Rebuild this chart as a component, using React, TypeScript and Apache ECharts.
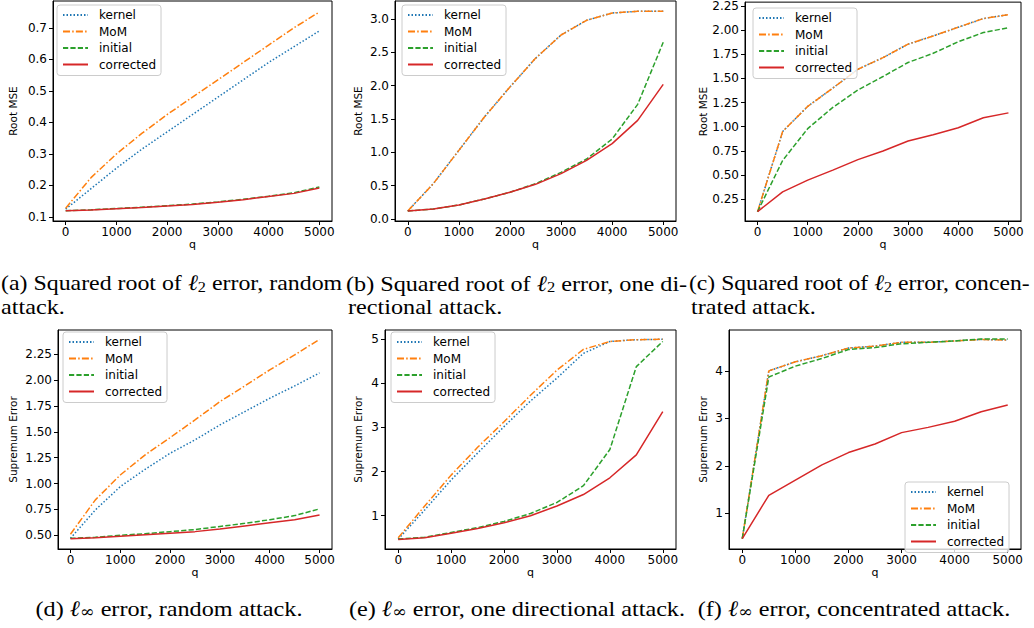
import React, { useEffect, useRef } from "react";
import * as echarts from "echarts";

const XS = [0, 500, 1000, 1500, 2000, 2500, 3000, 3500, 4000, 4500, 5000];
const XTICKS = [0, 1000, 2000, 3000, 4000, 5000];
const SERIES_NAMES = ["kernel", "MoM", "initial", "corrected"];

// (a) Root MSE, random attack
const kernelA = [0.125, 0.19, 0.255, 0.315, 0.37, 0.425, 0.48, 0.535, 0.59, 0.64, 0.69];
const momA = [0.128, 0.225, 0.3, 0.365, 0.425, 0.48, 0.535, 0.59, 0.645, 0.7, 0.75];
const initialA = [0.12, 0.123, 0.127, 0.131, 0.136, 0.141, 0.148, 0.156, 0.166, 0.177, 0.195];
const correctedA = [0.12, 0.122, 0.126, 0.13, 0.135, 0.14, 0.147, 0.155, 0.165, 0.175, 0.192];

// (b) Root MSE, one directional attack
const kernelB = [0.12, 0.53, 1.03, 1.53, 1.98, 2.41, 2.76, 2.98, 3.09, 3.115, 3.115];
const momB = [0.12, 0.53, 1.03, 1.53, 1.98, 2.41, 2.76, 2.98, 3.09, 3.115, 3.115];
const initialB = [0.12, 0.15, 0.21, 0.3, 0.4, 0.53, 0.7, 0.9, 1.2, 1.72, 2.65];
const correctedB = [0.12, 0.15, 0.21, 0.3, 0.4, 0.52, 0.68, 0.88, 1.13, 1.48, 2.02];

// (c) Root MSE, concentrated attack
const kernelC = [0.12, 0.95, 1.21, 1.4, 1.595, 1.715, 1.855, 1.94, 2.03, 2.12, 2.16];
const momC = [0.12, 0.95, 1.21, 1.4, 1.595, 1.715, 1.855, 1.94, 2.03, 2.12, 2.16];
const initialC = [0.12, 0.65, 0.98, 1.2, 1.38, 1.52, 1.665, 1.76, 1.88, 1.975, 2.025];
const correctedC = [0.12, 0.325, 0.446, 0.55, 0.659, 0.748, 0.851, 0.917, 0.989, 1.092, 1.143];

// (d) Supremum error, random attack
const kernelD = [0.47, 0.745, 0.97, 1.138, 1.293, 1.422, 1.567, 1.696, 1.825, 1.944, 2.07];
const momD = [0.51, 0.842, 1.083, 1.277, 1.444, 1.615, 1.792, 1.944, 2.099, 2.244, 2.395];
const initialD = [0.47, 0.48, 0.5, 0.515, 0.535, 0.555, 0.585, 0.615, 0.65, 0.69, 0.755];
const correctedD = [0.465, 0.475, 0.49, 0.505, 0.52, 0.535, 0.56, 0.59, 0.62, 0.65, 0.695];

// (e) Supremum error, one directional attack
const kernelE = [0.47, 1.13, 1.81, 2.42, 3.02, 3.6, 4.12, 4.68, 4.95, 4.99, 5.0];
const momE = [0.5, 1.22, 1.92, 2.55, 3.13, 3.73, 4.3, 4.77, 4.95, 4.99, 5.0];
const initialE = [0.47, 0.51, 0.62, 0.73, 0.87, 1.05, 1.3, 1.68, 2.5, 4.38, 4.95];
const correctedE = [0.46, 0.5, 0.6, 0.71, 0.84, 1.0, 1.22, 1.48, 1.86, 2.38, 3.36];

// (f) Supremum error, concentrated attack
const kernelF = [0.47, 4.0, 4.19, 4.32, 4.48, 4.52, 4.6, 4.6, 4.63, 4.66, 4.65];
const momF = [0.47, 4.0, 4.19, 4.32, 4.48, 4.52, 4.6, 4.6, 4.63, 4.66, 4.65];
const initialF = [0.47, 3.87, 4.1, 4.26, 4.45, 4.49, 4.57, 4.6, 4.63, 4.67, 4.67];
const correctedF = [0.47, 1.38, 1.7, 2.02, 2.28, 2.46, 2.7, 2.81, 2.94, 3.14, 3.28];

const yTicksA = [0.1, 0.2, 0.3, 0.4, 0.5, 0.6, 0.7];
const yTicksB = [0.0, 0.5, 1.0, 1.5, 2.0, 2.5, 3.0];
const yTicksC = [0.25, 0.5, 0.75, 1.0, 1.25, 1.5, 1.75, 2.0, 2.25];
const yTicksD = [0.5, 0.75, 1.0, 1.25, 1.5, 1.75, 2.0, 2.25];
const yTicksE = [1, 2, 3, 4, 5];
const yTicksF = [1, 2, 3, 4];

const COLORS = ["#1f77b4", "#ff7f0e", "#2ca02c", "#d62728"];
const DASHES: any[] = [[1.5, 2], [7, 2.2, 1.5, 2.2], [5.2, 2.2], "solid"];

const SANS = "DejaVu Sans";
const SERIF = "Liberation Serif";

type Panel = {
  grid: { left: number; top: number; width: number; height: number };
  yMin: number;
  yMax: number;
  yTicks: number[];
  decimals: number;
  yName: string;
  yNameGap: number;
  legend: { left: number; top: number };
  data: number[][];
};

const panels: Panel[] = [
  { grid: { left: 53, top: 1, width: 279, height: 220 }, yMin: 0.0874, yMax: 0.785, yTicks: yTicksA, decimals: 1, yName: "Root MSE", yNameGap: 35, legend: { left: 57, top: 5 }, data: [kernelA, momA, initialA, correctedA] },
  { grid: { left: 395, top: 1, width: 281, height: 220 }, yMin: -0.03, yMax: 3.27, yTicks: yTicksB, decimals: 1, yName: "Root MSE", yNameGap: 32, legend: { left: 402, top: 5 }, data: [kernelB, momB, initialB, correctedB] },
  { grid: { left: 745, top: 1, width: 276, height: 220 }, yMin: 0.023, yMax: 2.29, yTicks: yTicksC, decimals: 2, yName: "Root MSE", yNameGap: 37, legend: { left: 753, top: 8 }, data: [kernelC, momC, initialC, correctedC] },
  { grid: { left: 58, top: 330, width: 274, height: 219 }, yMin: 0.367, yMax: 2.485, yTicks: yTicksD, decimals: 2, yName: "Supremum Error", yNameGap: 40, legend: { left: 63, top: 332 }, data: [kernelD, momD, initialD, correctedD] },
  { grid: { left: 385, top: 330, width: 291, height: 219 }, yMin: 0.245, yMax: 5.21, yTicks: yTicksE, decimals: 0, yName: "Supremum Error", yNameGap: 22, legend: { left: 391, top: 332 }, data: [kernelE, momE, initialE, correctedE] },
  { grid: { left: 729, top: 330, width: 292, height: 219 }, yMin: 0.25, yMax: 4.86, yTicks: yTicksF, decimals: 0, yName: "Supremum Error", yNameGap: 21, legend: { left: 905, top: 482 }, data: [kernelF, momF, initialF, correctedF] },
];

const CAP_SIZE = 22;
const capRich = {
  l: { fontSize: CAP_SIZE, fontFamily: SERIF, fill: "#000", lineHeight: 23, fontStyle: "italic" },
  s: { fontSize: 15, fontFamily: SERIF, fill: "#000", lineHeight: 13, verticalAlign: "bottom" },
  i: { fontSize: 16, fontFamily: "DejaVu Serif", fill: "#000", lineHeight: 12, verticalAlign: "bottom" },
};

function capText(x: number, y: number, text: string, align: string, scaleX: number) {
  return {
    type: "text",
    x,
    y,
    scaleX,
    scaleY: 1,
    originX: 0,
    originY: 0,
    silent: true,
    style: {
      text,
      fill: "#000",
      fontSize: CAP_SIZE,
      fontFamily: SERIF,
      lineHeight: 23,
      textAlign: align,
      textVerticalAlign: "middle",
      rich: capRich,
    },
  };
}

export default function App() {
  const ref = useRef<HTMLDivElement>(null);
  useEffect(() => {
    if (!ref.current) return;
    const chart = echarts.init(ref.current, null, { renderer: "svg" });
    const grids: any[] = [];
    const xAxes: any[] = [];
    const yAxes: any[] = [];
    const series: any[] = [];
    const legends: any[] = [];
    panels.forEach((p, i) => {
      grids.push({ ...p.grid, show: true, borderColor: "#000", borderWidth: 1, containLabel: false });
      xAxes.push({
        type: "value",
        gridIndex: i,
        min: -250,
        max: 5250,
        axisLine: { show: true, onZero: false, lineStyle: { color: "#000", width: 1 } },
        axisTick: { show: true, customValues: XTICKS, length: 4, lineStyle: { color: "#000" } },
        axisLabel: {
          customValues: XTICKS,
          color: "#000",
          fontSize: 12,
          fontFamily: SANS,
          margin: 5,
          formatter: (v: number) => String(v),
        },
        splitLine: { show: false },
        name: "q",
        nameLocation: "middle",
        nameGap: 14,
        nameTextStyle: { color: "#000", fontSize: 11, fontFamily: SANS },
      });
      yAxes.push({
        type: "value",
        gridIndex: i,
        min: p.yMin,
        max: p.yMax,
        axisLine: { show: true, onZero: false, lineStyle: { color: "#000", width: 1 } },
        axisTick: { show: true, customValues: p.yTicks, length: 4, lineStyle: { color: "#000" } },
        axisLabel: {
          customValues: p.yTicks,
          color: "#000",
          fontSize: 12,
          fontFamily: SANS,
          margin: 6,
          formatter: (v: number) => v.toFixed(p.decimals),
        },
        splitLine: { show: false },
        name: p.yName,
        nameLocation: "middle",
        nameRotate: 90,
        nameGap: p.yNameGap,
        nameTextStyle: { color: "#000", fontSize: 10.5, fontFamily: SANS },
      });
      SERIES_NAMES.forEach((name, k) => {
        series.push({
          type: "line",
          name,
          xAxisIndex: i,
          yAxisIndex: i,
          data: XS.map((x, j) => [x, p.data[k][j]]),
          symbol: "none",
          showSymbol: false,
          lineStyle: { color: COLORS[k], width: 1.5, type: DASHES[k] },
          itemStyle: { color: COLORS[k] },
          z: 2 + k,
          silent: true,
        });
      });
      legends.push({
        left: p.legend.left,
        top: p.legend.top,
        orient: "vertical",
        data: SERIES_NAMES,
        itemWidth: 25,
        itemHeight: 10,
        itemGap: 4.5,
        padding: [4, 5, 5, 5],
        backgroundColor: "rgba(255,255,255,0.8)",
        borderColor: "#cccccc",
        borderWidth: 1,
        borderRadius: 3,
        itemStyle: { opacity: 0, color: "rgba(0,0,0,0)", borderWidth: 0 },
        textStyle: { color: "#000", fontSize: 12, fontFamily: SANS, padding: [0, 0, 0, 6] },
        selectedMode: false,
      });
    });

    const graphics = [
      capText(1, 283, "(a) Squared root of {l|ℓ}{s|2} error, random", "left", 1.085),
      capText(1, 306, "attack.", "left", 1.1),
      capText(346, 283, "(b) Squared root of {l|ℓ}{s|2} error, one di-", "left", 1.1),
      capText(348, 306, "rectional attack.", "left", 1.1),
      capText(689, 283, "(c) Squared root of {l|ℓ}{s|2} error, concen-", "left", 1.075),
      capText(691, 306, "trated attack.", "left", 1.1),
      capText(169, 608, "(d) {l|ℓ}{i|∞} error, random attack.", "center", 1.1),
      capText(517, 608, "(e) {l|ℓ}{i|∞} error, one directional attack.", "center", 1.1),
      capText(854, 608, "(f) {l|ℓ}{i|∞} error, concentrated attack.", "center", 1.1),
    ];

    chart.setOption({
      animation: false,
      backgroundColor: "#fff",
      grid: grids,
      xAxis: xAxes,
      yAxis: yAxes,
      legend: legends,
      series,
      graphic: graphics,
    });
    return () => chart.dispose();
  }, []);
  return (
    <div
      ref={ref}
      style={{ position: "fixed", left: 0, top: 0, width: 1034, height: 628 }}
    />
  );
}
